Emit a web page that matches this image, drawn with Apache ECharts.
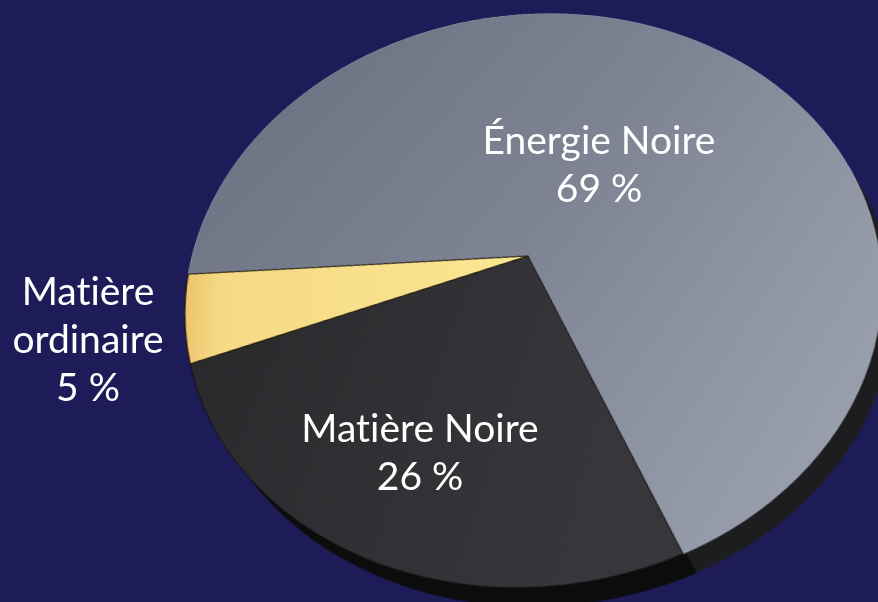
<!DOCTYPE html>
<html>
<head>
<meta charset="utf-8">
<script src="https://cdn.jsdelivr.net/npm/echarts/dist/echarts.min.js"></script>
<style>
  html, body { margin: 0; padding: 0; width: 878px; height: 602px; overflow: hidden; background: #1e1c58; }
  /* the pie is drawn flat, then tilted back in 3D so it reads as a disc */
  #disk {
    position: absolute; left: 128px; top: -144px; width: 800px; height: 800px;
    transform-origin: 50% 50%;
    transform: perspective(1291px) rotateZ(-6.8deg) rotateX(36deg);
  }
  #labels { position: absolute; left: 0; top: 0; width: 878px; height: 602px; }
  #labels text { font-variant-ligatures: none !important; font-feature-settings: "liga" 0 !important; }
</style>
</head>
<body>
<div id="disk"></div>
<div id="labels"></div>
<script>
// Composition of the universe (share of total energy density, %)
const categories = ['Énergie Noire', 'Matière Noire', 'Matière ordinaire'];
const shares = [69, 26, 5];
const labelLines = [['Énergie Noire'], ['Matière Noire'], ['Matière', 'ordinaire']];

const lin = (x, y, x2, y2, stops) => new echarts.graphic.LinearGradient(x, y, x2, y2,
  stops.map(s => ({ offset: s[0], color: s[1] })));

const faceStyles = [
  { color: lin(0, 0.1, 1, 0.9, [[0, '#6c7181'], [0.5, '#7f8494'], [1, '#a0a5b3']]),
    borderColor: 'rgba(196,202,216,0.35)', borderWidth: 1 },
  { color: lin(0, 0, 1, 0.3, [[0, '#29292c'], [1, '#37373b']]),
    borderColor: 'rgba(12,12,14,0.8)', borderWidth: 1 },
  { color: lin(0, 0.5, 1, 0.5, [[0, '#ecc36c'], [0.1, '#f6d985'], [1, '#fbe792']]),
    borderColor: 'rgba(30,24,10,0.85)', borderWidth: 1.5 }
];
const rimColors = ['#1d1d20', '#0c0c0d', '#2a2618'];

const disk = echarts.init(document.getElementById('disk'), null, { renderer: 'svg' });
const baseSeries = {
  type: 'pie',
  startAngle: 175.4,
  clockwise: true,
  silent: true,
  animation: false,
  label: { show: false },
  labelLine: { show: false },
  emphasis: { disabled: true }
};
disk.setOption({
  backgroundColor: 'transparent',
  series: [
    // the disc's edge: a slightly smaller copy pushed down behind the face
    Object.assign({}, baseSeries, {
      name: 'rim',
      radius: 340,
      center: [410, 423],
      z: 1,
      data: categories.map((n, i) => ({ name: n, value: shares[i], itemStyle: { color: rimColors[i], borderWidth: 0 } }))
    }),
    Object.assign({}, baseSeries, {
      name: 'face',
      radius: 345,
      center: [400, 400],
      z: 2,
      data: categories.map((n, i) => ({ name: n, value: shares[i], itemStyle: faceStyles[i] }))
    })
  ]
});

// Slice captions, laid over the tilted disc so the text stays upright
const labelAnchors = [[599, 115], [420, 403], [88, 266]];
const labels = echarts.init(document.getElementById('labels'), null, { renderer: 'svg' });
labels.setOption({
  backgroundColor: 'transparent',
  graphic: categories.map((n, i) => ({
    type: 'text',
    x: labelAnchors[i][0],
    y: labelAnchors[i][1],
    silent: true,
    style: {
      text: labelLines[i].join('\n') + '\n' + shares[i] + ' %',
      fill: '#ffffff',
      font: '39px Lato, "Open Sans", sans-serif',
      lineHeight: 48,
      align: 'center',
      verticalAlign: 'top'
    }
  }))
});
</script>
</body>
</html>
